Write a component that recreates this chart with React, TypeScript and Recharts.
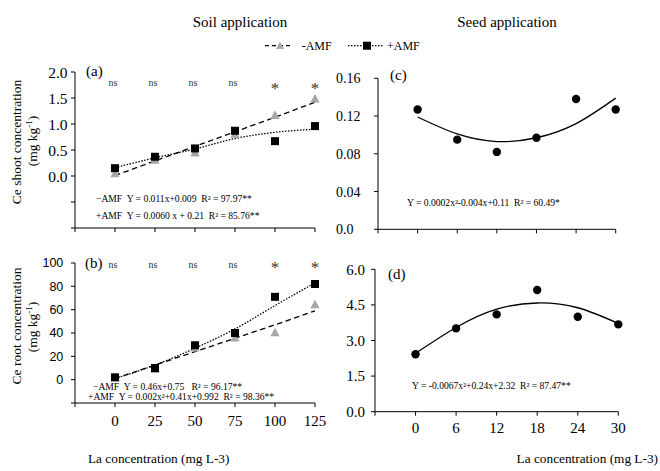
import React from 'react';
import { ComposedChart, Scatter, Line, XAxis, YAxis, ReferenceDot } from 'recharts';

// ---------- data ----------
const soilDoses = [0, 25, 50, 75, 100, 125];
const seedDoses = [0, 6, 12, 18, 24, 30];

const shootMinusAMF = [0.05, 0.31, 0.45, 0.81, 1.17, 1.49];
const shootPlusAMF = [0.15, 0.37, 0.53, 0.87, 0.67, 0.96];
const shootFitMinus = [0.01, 0.29, 0.57, 0.85, 1.13, 1.42];
const shootFitPlus = [0.16, 0.35, 0.52, 0.72, 0.84, 0.9];
const shootSig = ['ns', 'ns', 'ns', 'ns', '*', '*'];

const rootMinusAMF = [2, 9, 27.5, 36, 40.5, 64.5];
const rootPlusAMF = [2, 10, 29.5, 40, 71, 82];
const rootFitMinus = [1, 12.5, 24, 35.5, 47, 59];
const rootFitPlus = [1, 12.5, 27, 43.5, 63.5, 83];
const rootSig = ['ns', 'ns', 'ns', 'ns', '*', '*'];

const seedShoot = [0.127, 0.095, 0.082, 0.097, 0.138, 0.127];
const seedShootFit = [0.119, 0.101, 0.093, 0.097, 0.112, 0.139];
const seedRoot = [2.42, 3.51, 4.1, 5.13, 4.0, 3.68];
const seedRootFit = [2.46, 3.55, 4.32, 4.58, 4.38, 3.72];

const soilXTicks = [-25, 0, 25, 50, 75, 100, 125];
const seedXTicks = [-6, 0, 6, 12, 18, 24, 30];
const shootYTicks = [-1, -0.5, 0, 0.5, 1, 1.5, 2];
const rootYTicks = [-20, 0, 20, 40, 60, 80, 100];
const seedShootYTicks = [0, 0.04, 0.08, 0.12, 0.16];
const seedRootYTicks = [0, 1.5, 3, 4.5, 6];

const eqShootMinus = '\u2212AMF  Y = 0.011x+0.009  R\u00B2 = 97.97**';
const eqShootPlus = '+AMF  Y = 0.0060 x + 0.21  R\u00B2 = 85.76**';
const eqRootMinus = '\u2212AMF  Y = 0.46x+0.75   R\u00B2 = 96.17**';
const eqRootPlus = '+AMF  Y = 0.002x\u00B2+0.41x+0.992  R\u00B2 = 98.36**';
const eqSeedShoot = 'Y = 0.0002x\u00B2-0.004x+0.11  R\u00B2 = 60.49*';
const eqSeedRoot = 'Y = -0.0067x\u00B2+0.24x+2.32  R\u00B2 = 87.47**';

// ---------- tables ----------
const shootTable = soilDoses.map((x, i) => ({
  x, minus: shootMinusAMF[i], plus: shootPlusAMF[i], fitMinus: shootFitMinus[i], fitPlus: shootFitPlus[i], sig: shootSig[i],
}));
const rootTable = soilDoses.map((x, i) => ({
  x, minus: rootMinusAMF[i], plus: rootPlusAMF[i], fitMinus: rootFitMinus[i], fitPlus: rootFitPlus[i], sig: rootSig[i],
}));
const seedShootTable = seedDoses.map((x, i) => ({ x, y: seedShoot[i], fit: seedShootFit[i] }));
const seedRootTable = seedDoses.map((x, i) => ({ x, y: seedRoot[i], fit: seedRootFit[i] }));

// ---------- styles ----------
const serif = "'Liberation Serif'";
const sans = "'Liberation Sans'";
const black = '#000';
const gray = '#a6a6a6';
const eqSize = 9.6;

const Triangle = (p: any) => {
  const { cx, cy } = p;
  const s = 4.6;
  return <polygon points={`${cx},${cy - s} ${cx - s},${cy + s * 0.85} ${cx + s},${cy + s * 0.85}`} fill={gray} />;
};
const Square = (p: any) => <rect x={p.cx - 4} y={p.cy - 4} width={8} height={8} fill={black} />;
const Dot = (p: any) => <circle cx={p.cx} cy={p.cy} r={4.2} fill={black} />;

const sigShape = (label: string, nsDy: number, starDy: number) => (p: any) =>
  label === '*' ? (
    <text x={p.cx} y={p.cy} dy={starDy} textAnchor="middle" fontFamily={serif} fontSize={17} fill="#333">*</text>
  ) : (
    <text x={p.cx - 2} y={p.cy} dy={nsDy} textAnchor="middle" fontFamily={serif} fontSize={10} fill="#333">ns</text>
  );

const axisStroke = { stroke: black, strokeWidth: 1 };

const SeedShootTick = (p: any) => (
  <text x={6} y={p.y} dy="0.355em" textAnchor="start" fontFamily={serif} fontSize={14} fill={black}>
    {p.payload.value === 0 ? '0.0' : p.payload.value.toFixed(2)}
  </text>
);

const T = (props: any) => <text fontFamily={serif} fill={black} {...props} />;

export default function App() {
  return (
    <div style={{ position: 'absolute', left: 0, top: 0, width: 660, height: 471, background: '#fff', overflow: 'hidden', fontFamily: serif }}>
      {/* Panel (a) */}
      <div style={{ position: 'absolute', left: 0, top: 0 }}>
        <ComposedChart width={330} height={250} margin={{ top: 72, right: 15, bottom: 0, left: 0 }} data={shootTable}>
          <XAxis type="number" dataKey="x" domain={[-25, 125]} ticks={soilXTicks} interval={0} height={22}
            tickFormatter={() => ''} axisLine={axisStroke} tickLine={axisStroke} tickSize={4} />
          <YAxis type="number" domain={[-1, 2]} ticks={shootYTicks} interval={0} width={75} tickSize={4} tickMargin={3.5}
            tickFormatter={(v: number) => (v < 0 ? '' : v.toFixed(1))}
            tick={{ fontFamily: serif, fontSize: 15.5, fill: black }} axisLine={axisStroke} tickLine={axisStroke} />
          <Line dataKey="fitMinus" type="linear" stroke={black} strokeWidth={1.3} strokeDasharray="5.5 3.5" dot={false} activeDot={false} isAnimationActive={false} />
          <Line dataKey="fitPlus" type="monotone" stroke={black} strokeWidth={1.3} strokeDasharray="1.5 1.5" dot={false} activeDot={false} isAnimationActive={false} />
          <Scatter dataKey="minus" shape={Triangle} isAnimationActive={false} />
          <Scatter dataKey="plus" shape={Square} isAnimationActive={false} />
          {shootTable.map((d) => (
            <ReferenceDot key={d.x} x={d.x} y={1.75} r={0} ifOverflow="visible" shape={sigShape(d.sig, 1.3, 9)} />
          ))}
        </ComposedChart>
      </div>

      {/* Panel (b) */}
      <div style={{ position: 'absolute', left: 0, top: 240 }}>
        <ComposedChart width={330} height={200} margin={{ top: 23, right: 15, bottom: 0, left: 0 }} data={rootTable}>
          <XAxis type="number" dataKey="x" domain={[-25, 125]} ticks={soilXTicks} interval={0} height={37}
            tickFormatter={(v: number) => (v < 0 ? '' : String(v))} tick={{ fontFamily: serif, fontSize: 15, fill: black }}
            axisLine={axisStroke} tickLine={axisStroke} tickSize={4} tickMargin={8.75} />
          <YAxis type="number" domain={[-20, 100]} ticks={rootYTicks} interval={0} width={75} tickSize={4} tickMargin={7.7}
            tickFormatter={(v: number) => (v < 0 ? '' : String(v))}
            tick={{ fontFamily: sans, fontSize: 12.5, fill: black }} axisLine={axisStroke} tickLine={axisStroke} />
          <Line dataKey="fitMinus" type="linear" stroke={black} strokeWidth={1.3} strokeDasharray="5.5 3.5" dot={false} activeDot={false} isAnimationActive={false} />
          <Line dataKey="fitPlus" type="monotone" stroke={black} strokeWidth={1.3} strokeDasharray="1.5 1.5" dot={false} activeDot={false} isAnimationActive={false} />
          <Scatter dataKey="minus" shape={Triangle} isAnimationActive={false} />
          <Scatter dataKey="plus" shape={Square} isAnimationActive={false} />
          {rootTable.map((d) => (
            <ReferenceDot key={d.x} x={d.x} y={97} r={0} ifOverflow="visible" shape={sigShape(d.sig, 1.8, 6.8)} />
          ))}
        </ComposedChart>
      </div>

      {/* Panel (c) */}
      <div style={{ position: 'absolute', left: 330, top: 0 }}>
        <ComposedChart width={330} height={250} margin={{ top: 78.3, right: 44.3, bottom: 0, left: 0 }} data={seedShootTable}>
          <XAxis type="number" dataKey="x" domain={[-6, 30]} ticks={seedXTicks} interval={0} height={20.7}
            tickFormatter={() => ''} axisLine={axisStroke} tickLine={axisStroke} tickSize={4} />
          <YAxis type="number" domain={[0, 0.16]} ticks={seedShootYTicks} interval={0} width={48} tickSize={4}
            tick={<SeedShootTick />} axisLine={axisStroke} tickLine={axisStroke} />
          <Line dataKey="fit" type="natural" stroke={black} strokeWidth={1.3} dot={false} activeDot={false} isAnimationActive={false} />
          <Scatter dataKey="y" shape={Dot} isAnimationActive={false} />
        </ComposedChart>
      </div>

      {/* Panel (d) */}
      <div style={{ position: 'absolute', left: 330, top: 240 }}>
        <ComposedChart width={330} height={200} margin={{ top: 29.3, right: 41.7, bottom: 0, left: 0 }} data={seedRootTable}>
          <XAxis type="number" dataKey="x" domain={[-6, 30]} ticks={seedXTicks} interval={0} height={28.3}
            tickFormatter={(v: number) => (v < 0 ? '' : String(v))} tick={{ fontFamily: serif, fontSize: 15, fill: black }}
            axisLine={axisStroke} tickLine={axisStroke} tickSize={4} tickMargin={7} />
          <YAxis type="number" domain={[0, 6]} ticks={seedRootYTicks} interval={0} width={45} tickSize={4} tickMargin={6}
            tickFormatter={(v: number) => v.toFixed(1)}
            tick={{ fontFamily: serif, fontSize: 15, fill: black }} axisLine={axisStroke} tickLine={axisStroke} />
          <Line dataKey="fit" type="natural" stroke={black} strokeWidth={1.3} dot={false} activeDot={false} isAnimationActive={false} />
          <Scatter dataKey="y" shape={Dot} isAnimationActive={false} />
        </ComposedChart>
      </div>

      {/* Text overlay */}
      <svg width={660} height={471} style={{ position: 'absolute', left: 0, top: 0, pointerEvents: 'none' }}>
        <T x={240} y={27} fontSize={15} textAnchor="middle">Soil application</T>
        <T x={507} y={27} fontSize={15} textAnchor="middle">Seed application</T>

        {/* legend */}
        <line x1={265} x2={292} y1={45.7} y2={45.7} stroke={black} strokeWidth={1.3} strokeDasharray="4 3" />
        <polygon points={`280,${45.7 - 4} 276,${45.7 + 3.4} 284,${45.7 + 3.4}`} fill={gray} />
        <T x={301.7} y={49.7} fontSize={12}>-AMF</T>
        <line x1={348} x2={383} y1={45.7} y2={45.7} stroke={black} strokeWidth={1.3} strokeDasharray="1.5 1.5" />
        <rect x={363} y={41.7} width={8} height={8} fill={black} />
        <T x={387} y={49.7} fontSize={12}>+AMF</T>

        {/* y labels */}
        <T transform="translate(21,142) rotate(-90)" textAnchor="middle" fontSize={13.5}>Ce shoot concentration</T>
        <T transform="translate(37,141) rotate(-90)" textAnchor="middle" fontSize={13.5}>
          (mg kg<tspan dy={-5} fontSize={9}>-1</tspan><tspan dy={5}>)</tspan>
        </T>
        <T transform="translate(21,326) rotate(-90)" textAnchor="middle" fontSize={13.5}>Ce root concentration</T>
        <T transform="translate(37,327) rotate(-90)" textAnchor="middle" fontSize={13.5}>
          (mg kg<tspan dy={-5} fontSize={9}>-1</tspan><tspan dy={5}>)</tspan>
        </T>

        {/* x titles */}
        <T x={88} y={463} fontSize={13.3}>La concentration (mg L-3)</T>
        <T x={658} y={463} fontSize={13.3} textAnchor="end">La concentration (mg L-3)</T>

        {/* panel letters */}
        <T x={86} y={76} fontSize={15}>(a)</T>
        <T x={85} y={267.5} fontSize={15}>(b)</T>
        <T x={390} y={79.5} fontSize={15}>(c)</T>
        <T x={388} y={278.5} fontSize={15}>(d)</T>

        {/* equations */}
        <T x={96} y={201.5} fontSize={eqSize} style={{ whiteSpace: 'pre' }}>{eqShootMinus}</T>
        <T x={96} y={218.5} fontSize={eqSize} style={{ whiteSpace: 'pre' }}>{eqShootPlus}</T>
        <T x={93} y={390} fontSize={eqSize} style={{ whiteSpace: 'pre' }}>{eqRootMinus}</T>
        <T x={88} y={400} fontSize={eqSize} style={{ whiteSpace: 'pre' }}>{eqRootPlus}</T>
        <T x={407} y={206} fontSize={eqSize} style={{ whiteSpace: 'pre' }}>{eqSeedShoot}</T>
        <T x={412} y={388.5} fontSize={eqSize} style={{ whiteSpace: 'pre' }}>{eqSeedRoot}</T>
      </svg>
    </div>
  );
}
